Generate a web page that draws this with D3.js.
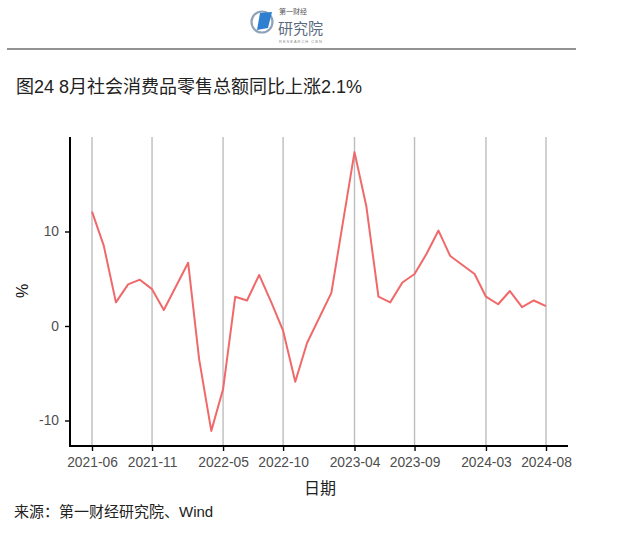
<!DOCTYPE html>
<html>
<head>
<meta charset="utf-8">
<script src="https://cdn.jsdelivr.net/npm/d3@7/dist/d3.min.js"></script>
<style>
  html, body { margin: 0; padding: 0; background: #fff; }
  svg { display: block; }
</style>
</head>
<body>
<svg id="chart" width="640" height="558"></svg>
<script>
// ---- data ----
const months = [
  "2021-06","2021-07","2021-08","2021-09","2021-10","2021-11","2021-12",
  "2022-02","2022-03","2022-04","2022-05","2022-06","2022-07","2022-08","2022-09","2022-10","2022-11","2022-12",
  "2023-02","2023-03","2023-04","2023-05","2023-06","2023-07","2023-08","2023-09","2023-10","2023-11","2023-12",
  "2024-02","2024-03","2024-04","2024-05","2024-06","2024-07","2024-08"
];
const values = [
  12.1, 8.5, 2.5, 4.4, 4.9, 3.9, 1.7,
  6.7, -3.5, -11.1, -6.7, 3.1, 2.7, 5.4, 2.5, -0.5, -5.9, -1.8,
  3.5, 10.6, 18.4, 12.7, 3.1, 2.5, 4.6, 5.5, 7.6, 10.1, 7.4,
  5.5, 3.1, 2.3, 3.7, 2.0, 2.7, 2.1
];
const xTickLabels = ["2021-06","2021-11","2022-05","2022-10","2023-04","2023-09","2024-03","2024-08"];
const yTickValues = [-10, 0, 10];
const titleText = "图24 8月社会消费品零售总额同比上涨2.1%";
const xAxisTitle = "日期";
const yAxisTitle = "%";
const sourceText = "来源：第一财经研究院、Wind";

// ---- setup ----
const svg = d3.select("#chart");
const parse = d3.timeParse("%Y-%m");
const data = months.map((m, i) => ({ date: parse(m), value: values[i] }));

const plot = { left: 70, right: 568, top: 137, bottom: 446 };
const x = d3.scaleTime()
  .domain([parse("2021-06"), parse("2024-08")])
  .range([92, 546]);
const y = d3.scaleLinear()
  .domain([-12.7, 20])
  .range([plot.bottom, plot.top]);

const cjk = "'Liberation Sans', Arial, 'Noto Sans CJK SC', sans-serif";

// ---- header / logo ----
const logo = svg.append("g").attr("transform", "translate(262,22)");
logo.append("circle").attr("r", 10.5).attr("fill", "none")
  .attr("stroke", "#8fa3b8").attr("stroke-width", 2.2);
logo.append("path")
  .attr("d", "M-5,8 L-2,-9 L10,-10 L6,6 Z")
  .attr("fill", "#2f7fd0");
svg.append("text").attr("x", 279).attr("y", 14)
  .attr("font-family", "'Noto Sans CJK SC', sans-serif")
  .attr("font-size", 7).attr("fill", "#555").text("第一财经");
svg.append("text").attr("x", 278).attr("y", 34)
  .attr("font-family", "'Noto Sans CJK SC', sans-serif")
  .attr("font-size", 15).attr("fill", "#5a6b7e").text("研究院");
svg.append("text").attr("x", 279).attr("y", 43)
  .attr("font-family", "'Liberation Sans', sans-serif")
  .attr("font-size", 4).attr("fill", "#888").attr("letter-spacing", 1).text("RESEARCH CBN");
svg.append("line").attr("x1", 7).attr("x2", 576).attr("y1", 49).attr("y2", 49)
  .attr("stroke", "#6e6e6e").attr("stroke-width", 1.6);

// ---- title ----
svg.append("text").attr("x", 16).attr("y", 93)
  .attr("font-family", cjk).attr("font-size", 18).attr("fill", "#222")
  .text(titleText);

// ---- vertical gridlines ----
const xTicks = xTickLabels.map(parse);
svg.append("g").selectAll("line").data(xTicks).join("line")
  .attr("x1", d => x(d)).attr("x2", d => x(d))
  .attr("y1", plot.top).attr("y2", plot.bottom)
  .attr("stroke", "#bdbdbd").attr("stroke-width", 1.4);

// ---- axes ----
const xAxis = d3.axisBottom(x).tickValues(xTicks)
  .tickFormat(d3.timeFormat("%Y-%m")).tickSize(5).tickSizeOuter(0).tickPadding(6);
const gx = svg.append("g").attr("transform", `translate(0,${plot.bottom})`).call(xAxis);
gx.select(".domain").remove();
gx.selectAll(".tick line").attr("stroke", "#000").attr("stroke-width", 1.4);
gx.selectAll(".tick text").attr("font-family", "'Liberation Sans', Arial, sans-serif")
  .attr("font-size", 13.8).attr("fill", "#4d4d4d");

const yAxis = d3.axisLeft(y).tickValues(yTickValues).tickSize(5).tickPadding(6)
  .tickFormat(d => String(d));
const gy = svg.append("g").attr("transform", `translate(${plot.left},0)`).call(yAxis);
gy.select(".domain").remove();
gy.selectAll(".tick line").attr("stroke", "#000").attr("stroke-width", 1.4);
gy.selectAll(".tick text").attr("font-family", "'Liberation Sans', Arial, sans-serif")
  .attr("font-size", 13.8).attr("fill", "#4d4d4d");

// axis lines
svg.append("line").attr("x1", plot.left).attr("x2", plot.left)
  .attr("y1", plot.top).attr("y2", plot.bottom + 1)
  .attr("stroke", "#000").attr("stroke-width", 2);
svg.append("line").attr("x1", plot.left - 1).attr("x2", plot.right)
  .attr("y1", plot.bottom).attr("y2", plot.bottom)
  .attr("stroke", "#000").attr("stroke-width", 2);

// ---- line ----
const line = d3.line().x(d => x(d.date)).y(d => y(d.value));
svg.append("path").datum(data)
  .attr("d", line).attr("fill", "none")
  .attr("stroke", "#f0696a").attr("stroke-width", 2)
  .attr("stroke-linejoin", "round");

// ---- axis titles ----
svg.append("text").attr("x", 320).attr("y", 494).attr("text-anchor", "middle")
  .attr("font-family", "'Noto Sans CJK SC', sans-serif")
  .attr("font-size", 16).attr("fill", "#222").text(xAxisTitle);
svg.append("text")
  .attr("transform", "translate(28,291) rotate(-90)")
  .attr("text-anchor", "middle")
  .attr("font-family", "'Liberation Sans', Arial, sans-serif")
  .attr("font-size", 16).attr("fill", "#111").text(yAxisTitle);

// ---- source ----
svg.append("text").attr("x", 14).attr("y", 517)
  .attr("font-family", cjk).attr("font-size", 15).attr("fill", "#222")
  .text(sourceText);
</script>
</body>
</html>
